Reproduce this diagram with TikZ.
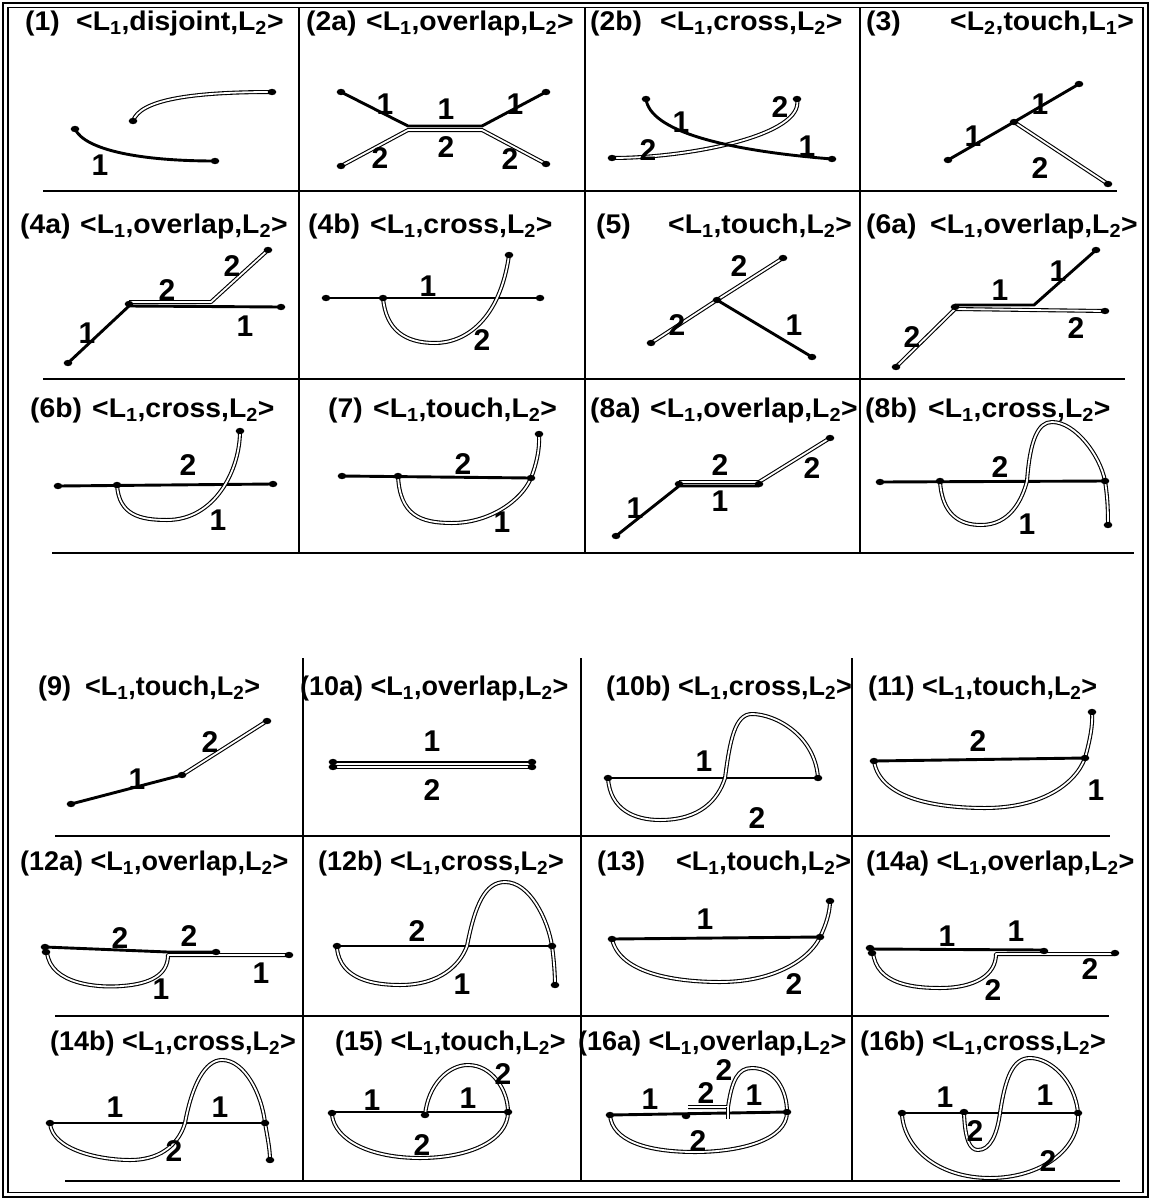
\documentclass[tikz,border=0pt]{standalone}
\usepackage{fontspec}
\setmainfont{Liberation Sans}
\newfontfamily\tfont{Liberation Sans}[FakeStretch=1.05]
\newcommand\dotat[1]{\fill[black] (#1) ellipse [x radius=4.3pt, y radius=3.2pt];}
\begin{document}
\begin{tikzpicture}[x=1pt,y=-1pt,
  one/.style={line width=2.9pt, line cap=round, line join=round},
  two/.style={line width=1.1pt, double=white, double distance=1.8pt, line join=round},
  grid/.style={line width=1.1pt},
  rowline/.style={line width=1.7pt},
  ttl/.style={anchor=base west, inner sep=0pt, font=\tfont\bfseries\fontsize{27}{27}\selectfont},
  ttb/.style={anchor=base west, inner sep=0pt, font=\bfseries\fontsize{27}{27}\selectfont},
  lab/.style={inner sep=0pt, font=\bfseries\fontsize{30}{30}\selectfont}]
\useasboundingbox (0,0) rectangle (1151,1200);
\fill[white] (0,0) rectangle (1151,1200);
% frame
\draw[line width=2.6pt] (3,3) rectangle (1148,1197);
\draw[line width=1.3pt] (8,7.5) rectangle (1143,1192.5);
% top grid
\foreach \x in {299,585,860} \draw[grid] (\x,7.5) -- (\x,553);
\draw[rowline] (43,191) -- (1117,191);
\draw[rowline] (43,379) -- (1125,379);
\draw[rowline] (52,553) -- (1134,553);
% bottom grid
\foreach \x in {303,581,852} \draw[grid] (\x,658) -- (\x,1181);
\draw[rowline] (55,836) -- (1110,836);
\draw[rowline] (55,1016) -- (1109,1016);
\draw[rowline] (65,1181) -- (1120,1181);

% ---------- titles ----------
\node[ttl] (p1) at (25,30) {(1)};   \node[ttl] (r1) at (76,30) {<L\textsubscript{1},disjoint,L\textsubscript{2}>};
\node[ttl] (p2a) at (306,30) {(2a)}; \node[ttl] (r2a) at (366,30) {<L\textsubscript{1},overlap,L\textsubscript{2}>};
\node[ttl] (p2b) at (590,30) {(2b)}; \node[ttl] (r2b) at (660,30) {<L\textsubscript{1},cross,L\textsubscript{2}>};
\node[ttl] (p3) at (866,30) {(3)};   \node[ttl] (r3) at (950,30) {<L\textsubscript{2},touch,L\textsubscript{1}>};
\node[ttl] (p4a) at (20,233) {(4a)}; \node[ttl] (r4a) at (80,233) {<L\textsubscript{1},overlap,L\textsubscript{2}>};
\node[ttl] (p4b) at (308,233) {(4b)}; \node[ttl] (r4b) at (370,233) {<L\textsubscript{1},cross,L\textsubscript{2}>};
\node[ttl] (p5) at (596,233) {(5)};  \node[ttl] (r5) at (668,233) {<L\textsubscript{1},touch,L\textsubscript{2}>};
\node[ttl] (p6a) at (866,233) {(6a)}; \node[ttl] (r6a) at (930,233) {<L\textsubscript{1},overlap,L\textsubscript{2}>};
\node[ttl] (p6b) at (30,417) {(6b)}; \node[ttl] (r6b) at (92,417) {<L\textsubscript{1},cross,L\textsubscript{2}>};
\node[ttl] (p7) at (328,417) {(7)};  \node[ttl] (r7) at (373,417) {<L\textsubscript{1},touch,L\textsubscript{2}>};
\node[ttl] (p8a) at (590,417) {(8a)}; \node[ttl] (r8a) at (650,417) {<L\textsubscript{1},overlap,L\textsubscript{2}>};
\node[ttl] (p8b) at (865,417) {(8b)}; \node[ttl] (r8b) at (928,417) {<L\textsubscript{1},cross,L\textsubscript{2}>};
\node[ttb] (p9) at (38,695) {(9)};   \node[ttb] (r9) at (85,695) {<L\textsubscript{1},touch,L\textsubscript{2}>};
\node[ttb] (t10a) at (300,695) {(10a) <L\textsubscript{1},overlap,L\textsubscript{2}>};
\node[ttb] (t10b) at (606,695) {(10b) <L\textsubscript{1},cross,L\textsubscript{2}>};
\node[ttb] (t11) at (868,695) {(11) <L\textsubscript{1},touch,L\textsubscript{2}>};
\node[ttb] (t12a) at (20,870) {(12a) <L\textsubscript{1},overlap,L\textsubscript{2}>};
\node[ttb] (t12b) at (318,870) {(12b) <L\textsubscript{1},cross,L\textsubscript{2}>};
\node[ttb] (p13) at (597,870) {(13)}; \node[ttb] (r13) at (676,870) {<L\textsubscript{1},touch,L\textsubscript{2}>};
\node[ttb] (t14a) at (866,870) {(14a) <L\textsubscript{1},overlap,L\textsubscript{2}>};
\node[ttb] (t14b) at (50,1050) {(14b) <L\textsubscript{1},cross,L\textsubscript{2}>};
\node[ttb] (t15) at (335,1050) {(15) <L\textsubscript{1},touch,L\textsubscript{2}>};
\node[ttb] (t16a) at (578,1050) {(16a) <L\textsubscript{1},overlap,L\textsubscript{2}>};
\node[ttb] (t16b) at (860,1050) {(16b) <L\textsubscript{1},cross,L\textsubscript{2}>};

% ---------- (1) ----------
\draw[two] (133,121) .. controls (140,100) and (190,92) .. (272,92);
\draw[one] (75,129) .. controls (85,150) and (140,161) .. (215,161);
\dotat{133,121}\dotat{272,92}\dotat{75,129}\dotat{215,161}
\node[lab] (c1a) at (100,165) {1};
% ---------- (2a) ----------
\draw[two] (341,166) -- (408,130) -- (482,130) -- (546,164);
\draw[one] (341,92) -- (408,126) -- (482,126) -- (546,92);
\dotat{341,92}\dotat{546,92}\dotat{341,166}\dotat{546,164}
\node[lab] (c2a1) at (385,104) {1}; \node[lab] (c2a2) at (446,109) {1}; \node[lab] (c2a3) at (515,104) {1};
\node[lab] (c2a4) at (380,158) {2}; \node[lab] (c2a5) at (446,147) {2}; \node[lab] (c2a6) at (510,159) {2};
% ---------- (2b) ----------
\draw[two] (612,158) .. controls (690,158) and (805,135) .. (797,99);
\draw[one] (646,99) .. controls (650,130) and (720,150) .. (832,159);
\dotat{646,99}\dotat{832,159}\dotat{612,158}\dotat{797,99}
\node[lab] (c2b1) at (681,122) {1}; \node[lab] (c2b2) at (780,107) {2};
\node[lab] (c2b3) at (648,150) {2}; \node[lab] (c2b4) at (807,146) {1};
% ---------- (3) ----------
\draw[two] (1014,122) -- (1108,184);
\draw[one] (948,160) -- (1014,122) -- (1079,84);
\dotat{948,160}\dotat{1014,122}\dotat{1079,84}\dotat{1108,184}
\node[lab] (c3a) at (973,136) {1}; \node[lab] (c3b) at (1040,104) {1}; \node[lab] (c3c) at (1040,168) {2};
% ---------- (4a) ----------
\draw[one] (68,363) -- (129,306) -- (281,307);
\draw[two] (129,302) -- (211,302) -- (268,250);
\dotat{68,363}\dotat{129,304}\dotat{281,307}\dotat{268,250}
\node[lab] (c4a1) at (87,333) {1}; \node[lab] (c4a2) at (167,290) {2};
\node[lab] (c4a3) at (232,266) {2}; \node[lab] (c4a4) at (245,326) {1};
% ---------- (4b) ----------
\draw[one] (326,298) -- (540,298);
\draw[two] (383,298) .. controls (386,330) and (405,343) .. (435,343) .. controls (465,343) and (500,320) .. (509,255);
\dotat{326,298}\dotat{383,298}\dotat{540,298}\dotat{509,255}
\node[lab] (c4b1) at (428,286) {1}; \node[lab] (c4b2) at (482,340) {2};
% ---------- (5) ----------
\draw[two] (651,343) -- (717,300) -- (783,258);
\draw[one] (717,300) -- (812,357);
\dotat{651,343}\dotat{717,300}\dotat{783,258}\dotat{812,357}
\node[lab] (c5a) at (677,325) {2}; \node[lab] (c5b) at (739,266) {2}; \node[lab] (c5c) at (794,325) {1};
% ---------- (6a) ----------
\draw[two] (896,367) -- (955,309) -- (1105,311);
\draw[one] (955,305) -- (1034,305) -- (1096,250);
\dotat{896,367}\dotat{955,307}\dotat{1096,250}\dotat{1105,311}
\node[lab] (c6a1) at (1000,290) {1}; \node[lab] (c6a2) at (1058,271) {1};
\node[lab] (c6a3) at (912,337) {2}; \node[lab] (c6a4) at (1076,328) {2};
% ---------- (6b) ----------
\draw[one] (58,486) -- (273,484);
\draw[two] (117,485) .. controls (119,515) and (140,520) .. (167,520) .. controls (215,520) and (240,470) .. (240,431);
\dotat{58,486}\dotat{117,485}\dotat{273,484}\dotat{240,431}
\node[lab] (c6b1) at (188,465) {2}; \node[lab] (c6b2) at (218,520) {1};
% ---------- (7) ----------
\draw[one] (342,476) -- (531,478);
\draw[two] (398,476) .. controls (400,515) and (420,523) .. (452,523) .. controls (490,523) and (522,500) .. (531,478) .. controls (536,465) and (540,450) .. (539,434);
\dotat{342,476}\dotat{398,476}\dotat{531,478}\dotat{539,434}
\node[lab] (c7a) at (463,464) {2}; \node[lab] (c7b) at (502,522) {1};
% ---------- (8a) ----------
\draw[one] (616,536) -- (679,486) -- (759,486);
\draw[two] (679,482) -- (759,482) -- (830,438);
\dotat{616,536}\dotat{679,484}\dotat{759,484}\dotat{830,438}
\node[lab] (c8a1) at (635,508) {1}; \node[lab] (c8a2) at (720,465) {2};
\node[lab] (c8a3) at (720,501) {1}; \node[lab] (c8a4) at (812,468) {2};
% ---------- (8b) ----------
\draw[one] (880,482) -- (1106,481);
\draw[two] (940,481) .. controls (942,515) and (960,525) .. (981,525) .. controls (1010,525) and (1022,500) .. (1027,481) .. controls (1030,440) and (1038,422) .. (1052,422) .. controls (1075,422) and (1100,455) .. (1105,481) .. controls (1108,500) and (1108,515) .. (1108,525);
\dotat{880,482}\dotat{940,481}\dotat{1105,481}\dotat{1108,525}
\node[lab] (c8b1) at (1000,467) {2}; \node[lab] (c8b2) at (1027,524) {1};
% ---------- (9) ----------
\draw[two] (182,775) -- (267,721);
\draw[one] (71,804) -- (182,775);
\dotat{71,804}\dotat{182,775}\dotat{267,721}
\node[lab] (c9a) at (137,779) {1}; \node[lab] (c9b) at (210,742) {2};
% ---------- (10a) ----------
\draw[one] (333,762) -- (532,762);
\draw[two] (333,767) -- (532,767);
\dotat{333,762}\dotat{333,767}\dotat{532,762}\dotat{532,767}
\node[lab] (c10a1) at (432,741) {1}; \node[lab] (c10a2) at (432,790) {2};
% ---------- (10b) ----------
\draw[one] (608,778) -- (818,778);
\draw[two] (608,778) .. controls (610,810) and (635,820) .. (660,820) .. controls (700,820) and (718,800) .. (725,778) .. controls (730,740) and (735,714) .. (752,714) .. controls (775,714) and (815,735) .. (818,778);
\dotat{608,778}\dotat{818,778}
\node[lab] (c10b1) at (704,761) {1}; \node[lab] (c10b2) at (757,818) {2};
% ---------- (11) ----------
\draw[one] (874,761) -- (1085,758);
\draw[two] (874,761) .. controls (880,800) and (940,808) .. (985,808) .. controls (1040,808) and (1075,785) .. (1085,758) .. controls (1090,740) and (1093,725) .. (1092,712);
\dotat{874,761}\dotat{1085,758}\dotat{1092,712}
\node[lab] (c11a) at (978,741) {2}; \node[lab] (c11b) at (1096,790) {1};
% ---------- (12a) ----------
\draw[two] (47,952) .. controls (50,985) and (100,988) .. (122,986) .. controls (150,984) and (168,975) .. (168,955) -- (289,955);
\draw[one] (45,947) -- (168,952) -- (216,952);
\dotat{45,947}\dotat{46,952}\dotat{216,952}\dotat{289,955}
\node[lab] (c12a1) at (120,938) {2}; \node[lab] (c12a2) at (189,936) {2};
\node[lab] (c12a3) at (261,973) {1}; \node[lab] (c12a4) at (161,989) {1};
% ---------- (12b) ----------
\draw[one] (337,946) -- (552,946);
\draw[two] (337,948) .. controls (340,980) and (375,985) .. (400,985) .. controls (440,985) and (460,965) .. (467,946) .. controls (475,905) and (485,882) .. (505,882) .. controls (530,882) and (548,920) .. (552,946) .. controls (554,960) and (555,975) .. (555,985);
\dotat{337,946}\dotat{552,946}\dotat{555,985}
\node[lab] (c12b1) at (417,931) {2}; \node[lab] (c12b2) at (462,984) {1};
% ---------- (13) ----------
\draw[one] (612,939) -- (820,937);
\draw[two] (612,939) .. controls (620,975) and (680,982) .. (720,982) .. controls (780,982) and (812,955) .. (820,937) .. controls (826,925) and (830,912) .. (830,901);
\dotat{612,939}\dotat{820,937}\dotat{830,901}
\node[lab] (c13a) at (705,919) {1}; \node[lab] (c13b) at (794,984) {2};
% ---------- (14a) ----------
\draw[two] (873,952) .. controls (876,985) and (915,988) .. (940,988) .. controls (975,988) and (996,975) .. (996,954) -- (1115,954);
\draw[one] (870,949) -- (1044,950);
\dotat{870,948}\dotat{872,953}\dotat{1044,951}\dotat{1115,953}
\node[lab] (c14a1) at (947,936) {1}; \node[lab] (c14a2) at (1016,931) {1};
\node[lab] (c14a3) at (1090,969) {2}; \node[lab] (c14a4) at (993,990) {2};
% ---------- (14b) ----------
\draw[one] (50,1123) -- (265,1123);
\draw[two] (50,1123) .. controls (52,1150) and (100,1160) .. (130,1160) .. controls (165,1160) and (180,1140) .. (185,1123) .. controls (192,1085) and (205,1060) .. (222,1060) .. controls (245,1060) and (262,1095) .. (265,1123) .. controls (268,1140) and (270,1150) .. (270,1160);
\dotat{50,1123}\dotat{265,1123}\dotat{270,1160}
\node[lab] (c14b1) at (115,1107) {1}; \node[lab] (c14b2) at (220,1107) {1}; \node[lab] (c14b3) at (174,1151) {2};
% ---------- (15) ----------
\draw[one] (332,1112) -- (508,1112);
\draw[two] (425,1115) .. controls (428,1085) and (448,1065) .. (468,1065) .. controls (492,1065) and (508,1090) .. (508,1112) .. controls (508,1140) and (470,1158) .. (420,1158) .. controls (370,1158) and (335,1140) .. (332,1115);
\dotat{332,1113}\dotat{425,1115}\dotat{508,1112}
\node[lab] (c15a) at (372,1100) {1}; \node[lab] (c15b) at (468,1098) {1};
\node[lab] (c15c) at (503,1074) {2}; \node[lab] (c15d) at (422,1145) {2};
% ---------- (16a) ----------
\draw[one] (610,1115) -- (787,1112);
\draw[two] (688,1107) -- (728,1107) .. controls (732,1080) and (738,1068) .. (752,1068) .. controls (775,1068) and (787,1090) .. (787,1112) .. controls (787,1140) and (740,1152) .. (695,1152) .. controls (645,1152) and (612,1140) .. (610,1115);
\draw[two] (728,1107) -- (728,1119);
\dotat{610,1115}\dotat{686,1116}\dotat{787,1112}
\node[lab] (c16a1) at (650,1099) {1}; \node[lab] (c16a2) at (706,1093) {2}; \node[lab] (c16a3) at (754,1095) {1};
\node[lab] (c16a4) at (724,1070) {2}; \node[lab] (c16a5) at (698,1141) {2};
% ---------- (16b) ----------
\draw[one] (902,1113) -- (1078,1113);
\draw[two] (964,1113) .. controls (965,1140) and (970,1150) .. (978,1150) .. controls (990,1150) and (997,1135) .. (1000,1113) .. controls (1005,1080) and (1012,1058) .. (1030,1058) .. controls (1050,1058) and (1075,1080) .. (1078,1113) .. controls (1080,1150) and (1040,1178) .. (990,1178) .. controls (940,1178) and (905,1150) .. (902,1115);
\dotat{902,1113}\dotat{964,1112}\dotat{1078,1113}
\node[lab] (c16b1) at (945,1097) {1}; \node[lab] (c16b2) at (1045,1095) {1};
\node[lab] (c16b3) at (975,1131) {2}; \node[lab] (c16b4) at (1048,1161) {2};
\end{tikzpicture}
\end{document}
